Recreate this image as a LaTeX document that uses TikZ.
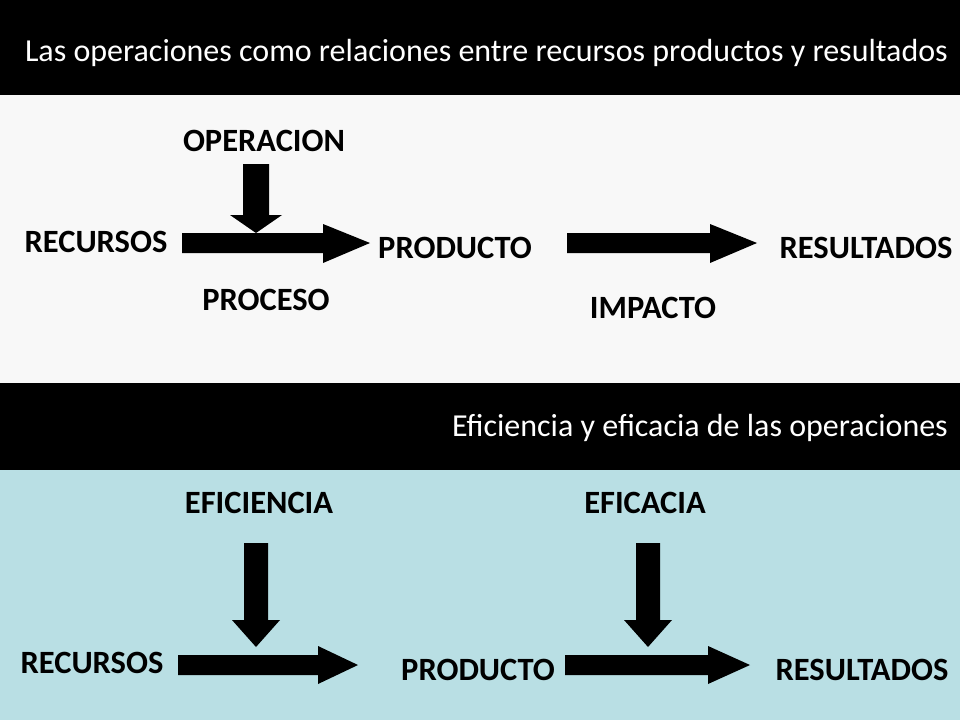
\documentclass[tikz,border=0pt]{standalone}
\usepackage{fontspec}
\setmainfont{Carlito}
\tikzset{
  lbl/.style={font=\fontsize{32.5}{36}\selectfont\bfseries, inner sep=0pt},
  bandtitle/.style={font=\fontsize{32}{36}\selectfont, text=white, anchor=east, inner sep=0pt},
}
\definecolor{lightband}{RGB}{248,248,248}
\definecolor{blueband}{RGB}{185,223,228}
\begin{document}
\begin{tikzpicture}[x=1pt,y=-1pt]
\useasboundingbox (0,0) rectangle (960,720);
\fill[black] (0,0) rectangle (960,95);
\fill[lightband] (0,95) rectangle (960,383);
\fill[black] (0,383) rectangle (960,470);
\fill[blueband] (0,470) rectangle (960,720);
\node[bandtitle] (t1) at (948,53) {Las operaciones como relaciones entre recursos productos y resultados};
\node[bandtitle] (t2) at (948,428) {Eficiencia y eficacia de las operaciones};
% upper diagram
\node[lbl] (operacion) at (264,141) {OPERACION};
\node[lbl] (recursos1) at (96,242) {RECURSOS};
\node[lbl] (producto1) at (455,248) {PRODUCTO};
\node[lbl] (resultados1) at (866,248) {RESULTADOS};
\node[lbl] (proceso) at (266,300) {PROCESO};
\node[lbl] (impacto) at (653,308) {IMPACTO};
\fill (182,233) rectangle (323,253) (323,224) -- (370,243) -- (323,263) -- cycle;
\fill (243,164) rectangle (269,215) (230,215) -- (256,233) -- (282,215) -- cycle;
\fill (567,233) rectangle (710,253) (710,224) -- (757,243) -- (710,263) -- cycle;
% lower diagram
\node[lbl] (eficiencia) at (259,503) {EFICIENCIA};
\node[lbl] (eficacia) at (645,503) {EFICACIA};
\node[lbl] (recursos2) at (92,663) {RECURSOS};
\node[lbl] (producto2) at (478,670) {PRODUCTO};
\node[lbl] (resultados2) at (862,670) {RESULTADOS};
\fill (244,543) rectangle (268,620) (232,620) -- (256,647) -- (280,620) -- cycle;
\fill (636,543) rectangle (660,620) (624,620) -- (648,647) -- (672,620) -- cycle;
\fill (178,655) rectangle (318,675) (318,646) -- (358,665) -- (318,684) -- cycle;
\fill (565,655) rectangle (708,675) (708,646) -- (750,665) -- (708,684) -- cycle;
\end{tikzpicture}
\end{document}
